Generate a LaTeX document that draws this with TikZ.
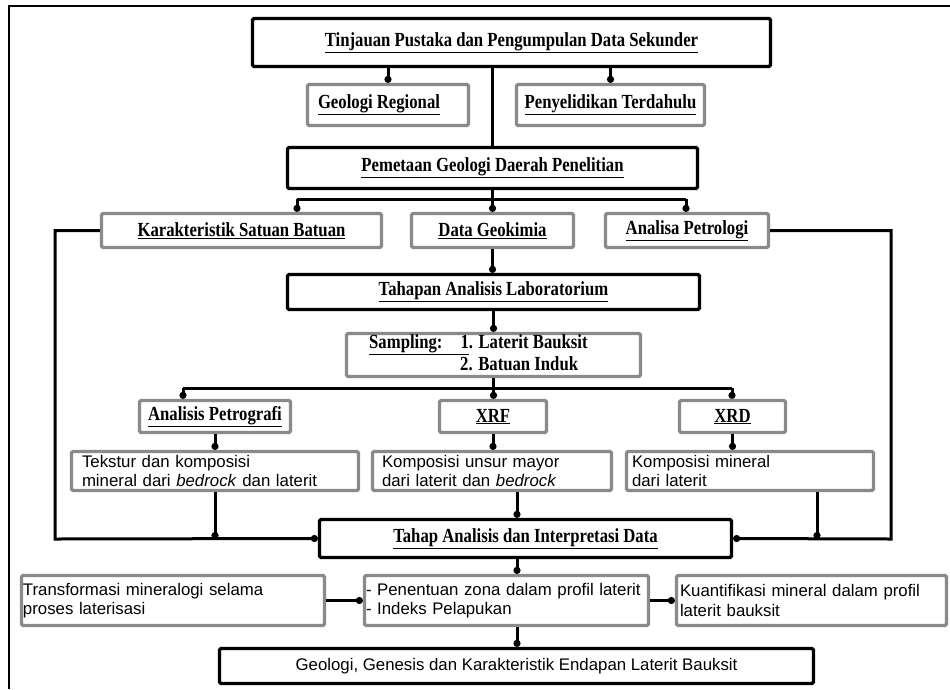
\documentclass[tikz,border=0pt]{standalone}
\usepackage{fontspec}
\setmainfont{Liberation Serif}[FakeStretch=0.835]
\setsansfont{Liberation Sans}
\usetikzlibrary{arrows.meta}
\definecolor{boxgray}{RGB}{138,138,138}
\tikzset{
  base/.style={rounded corners=1.5pt, inner sep=0pt, font=\fontsize{20}{20}\selectfont\bfseries},
  blackbox/.style={base, draw=black, line width=3.3pt},
  graybox/.style={base, draw=boxgray, line width=3.3pt},
  sansbox/.style={graybox, font=\sffamily\fontsize{16.8}{19.5}\selectfont, align=left},
  plaintext/.style={inner sep=0pt, font=\fontsize{20}{20}\selectfont\bfseries},
  conn/.style={line width=3pt},
  arr/.style={conn, -{Circle[length=7pt,width=7pt]}},
}
\begin{document}
\begin{tikzpicture}[x=1pt,y=-1pt]
\useasboundingbox (0,0) rectangle (950,689);
% outer frame
\coordinate (frTR) at (950,6);
\coordinate (frTL) at (9,6);
\coordinate (frBL) at (9,689);
\draw[line width=2pt] (frTR) -- (frTL) -- (frBL);

% boxes
\node[blackbox, minimum width=518pt, minimum height=48pt] (tin) at (511.5,42.5) {\underline{Tinjauan Pustaka dan Pengumpulan Data Sekunder}};
\node[graybox, minimum width=161pt, minimum height=41pt] (geo) at (388,105) {\underline{Geologi Regional}\hspace*{18pt}};
\node[graybox, minimum width=188pt, minimum height=41pt] (pen) at (610.5,105) {\underline{Penyelidikan Terdahulu}};
\node[blackbox, minimum width=410pt, minimum height=41pt] (pem) at (492.5,168) {\underline{Pemetaan Geologi Daerah Penelitian}};
\node[graybox, minimum width=280pt, minimum height=34pt] (kar) at (241.5,230.5) {\underline{Karakteristik Satuan Batuan}};
\node[graybox, minimum width=162pt, minimum height=34pt] (dgk) at (492.5,230.5) {\underline{Data Geokimia}};
\node[graybox, minimum width=163pt, minimum height=34pt] (ana) at (687,230.5) {\raisebox{2pt}{\underline{Analisa Petrologi}}};
\node[blackbox, minimum width=412pt, minimum height=35pt] (tahL) at (493.5,292) {\underline{Tahapan Analisis Laboratorium}};
\node[graybox, minimum width=294pt, minimum height=43pt] (samp) at (493.5,355) {};
\node[plaintext, anchor=base west] (sampA) at (369,348) {\underline{Sampling:\hspace{18pt}1}. Laterit Bauksit};
\node[plaintext, anchor=base west] (sampB) at (460,370) {2. Batuan Induk};
\node[graybox, minimum width=151pt, minimum height=32pt] (ap) at (215,416.5) {\underline{Analisis Petrografi}};
\node[graybox, minimum width=107pt, minimum height=32pt] (xrf) at (493,416.5) {\underline{XRF}};
\node[graybox, minimum width=106pt, minimum height=32pt] (xrd) at (732.5,416.5) {\underline{XRD}};
\node[sansbox, minimum height=39pt, inner xsep=10.5pt, text width=266pt] (tek) at (215,471) {Tekstur dan komposisi\\mineral dari \textit{bedrock} dan laterit};
\node[sansbox, minimum height=39pt, inner xsep=9.5pt, text width=220pt] (kun) at (492,471) {Komposisi unsur mayor\\dari laterit dan \textit{bedrock}};
\node[sansbox, minimum height=39pt, inner xsep=5.5pt, text width=236pt] (kmi) at (750,471) {Komposisi mineral\\dari laterit};
\node[blackbox, minimum width=412pt, minimum height=38pt] (tah) at (525.5,538.5) {\underline{Tahap Analisis dan Interpretasi Data}};
\node[sansbox, minimum height=50pt, inner xsep=1.5pt, text width=300pt] (trf) at (173,600.5) {Transformasi mineralogi selama\\proses laterisasi};
\node[sansbox, minimum height=50pt, inner xsep=1.5pt, text width=281pt] (pnt) at (506.5,600.5) {- Penentuan zona dalam profil laterit\\- Indeks Pelapukan};
\node[sansbox, minimum height=50pt, inner xsep=3.5pt, text width=263pt] (kua) at (811.5,600.5) {Kuantifikasi mineral dalam profil\\laterit bauksit};
\node[blackbox, minimum width=594pt, minimum height=35pt, font=\sffamily\fontsize{16.8}{19.5}\selectfont] (fin) at (516.5,666) {Geologi, Genesis dan Karakteristik Endapan Laterit Bauksit};

% helper coordinates
\coordinate (pj) at (492.5,199);
\coordinate (pl) at (297,199);
\coordinate (pr) at (686,199);
\coordinate (sj) at (493.5,388);
\coordinate (sl) at (183,388);
\coordinate (sr) at (732,388);
\coordinate (lx) at (55,539);
\coordinate (rx) at (891,539);
\coordinate (tekB) at (215,539);
\coordinate (kmiB) at (817,539);
\coordinate (kunX) at (517,0);

% connectors
\draw[arr] (tin.south -| geo.north) -- (geo.north);
\draw[arr] (tin.south -| pen.north) -- (pen.north);
\draw[conn] (tin.south -| pem.north) -- (pem.north);
\draw[conn] (pem.south) -- (pj);
\draw[conn] (pl) -- (pr);
\draw[arr] (pl) -- (pl |- kar.north);
\draw[arr] (pj) -- (pj |- dgk.north);
\draw[arr] (pr) -- (pr |- ana.north);
\draw[arr] (dgk.south) -- (dgk.south |- tahL.north);
\draw[arr] (tahL.south) -- (samp.north);
\draw[conn] (samp.south) -- (sj);
\draw[conn] (sl) -- (sr);
\draw[arr] (sl) -- (sl |- ap.north);
\draw[arr] (sj) -- (sj |- xrf.north);
\draw[arr] (sr) -- (sr |- xrd.north);
\draw[arr] (ap.south) -- (tek.north);
\draw[arr] (xrf.south) -- (xrf.south |- kun.north);
\draw[arr] (xrd.south) -- (xrd.south |- kmi.north);
\draw[arr] (kar.west) -| (lx) -- (tah.west);
\draw[arr] (ana.east) -| (rx) -- (tah.east);
\draw[arr] (tek.south) -- (tekB);
\draw[arr] (kmi.south -| kmiB) -- (kmiB);
\draw[arr] (kun.south -| kunX) -- (tah.north -| kunX);
\draw[arr] (tah.south -| kunX) -- (pnt.north -| kunX);
\draw[arr] (pnt.south -| kunX) -- (fin.north -| kunX);
\draw[arr] (trf.east) -- (pnt.west);
\draw[arr] (pnt.east) -- (kua.west);
\end{tikzpicture}
\end{document}
